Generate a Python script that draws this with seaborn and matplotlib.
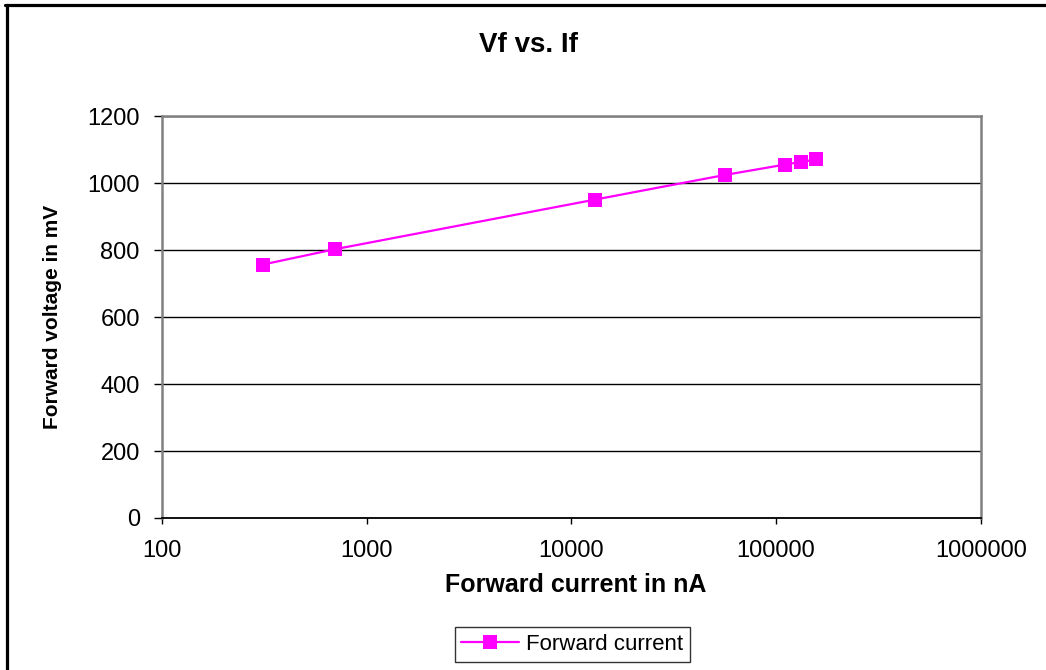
import matplotlib
matplotlib.use("Agg")
import matplotlib.pyplot as plt
import matplotlib.ticker as mticker
from matplotlib.lines import Line2D
import pandas as pd
import seaborn as sns

# Diode forward characteristic: current (nA) vs forward voltage (mV)
forward_current_na = [310, 700, 13000, 56500, 111000, 133000, 157000]
forward_voltage_mv = [757, 803, 951, 1025, 1056, 1064, 1071]
series_name = "Forward current"

x_ticks = [100, 1000, 10000, 100000, 1000000]
y_ticks = [0, 200, 400, 600, 800, 1000, 1200]

df = pd.DataFrame({
    "current": forward_current_na,
    "voltage": forward_voltage_mv,
    "series": series_name,
})

sns.set_theme(style="white")
plt.rcParams["font.family"] = ["Liberation Sans", "DejaVu Sans"]
plt.rcParams["text.color"] = "black"
plt.rcParams["xtick.color"] = "black"
plt.rcParams["ytick.color"] = "black"

fig = plt.figure(figsize=(10.46, 6.70), dpi=100)
ax = fig.add_axes([0.1549, 0.2269, 0.7827, 0.5995])

sns.lineplot(data=df, x="current", y="voltage", hue="series",
             palette=["#FF00FF"], marker="s", markersize=9.5,
             markeredgewidth=0, linewidth=1.6, ax=ax, legend=False)

ax.set_xscale("log")
ax.set_xlim(100, 1000000)
ax.set_ylim(0, 1200)
ax.xaxis.set_major_locator(mticker.FixedLocator(x_ticks))
ax.xaxis.set_minor_locator(mticker.NullLocator())
ax.xaxis.set_major_formatter(mticker.FuncFormatter(lambda v, p: f"{int(round(v))}"))
ax.set_yticks(y_ticks)

# horizontal gridlines only, black
ax.yaxis.grid(True, color="black", linewidth=1.0)
ax.xaxis.grid(False)

ax.spines["bottom"].set_color("black")
ax.spines["bottom"].set_linewidth(1.3)
for side in ("top", "right", "left"):
    ax.spines[side].set_color("#808080")
    ax.spines[side].set_linewidth(1.8)

ax.tick_params(axis="y", which="major", direction="out", length=6, width=1.0,
               color="black", left=True, labelsize=17, labelcolor="black", pad=10)
ax.tick_params(axis="x", which="major", direction="out", length=4, width=1.0,
               color="black", bottom=True, labelsize=17, labelcolor="black", pad=12)

ax.set_xlabel("")
ax.set_ylabel("")
fig.text(0.550, 0.127, "Forward current in nA", ha="center", va="center",
         fontsize=18, fontweight="bold")
fig.text(0.050, 0.527, "Forward voltage in mV", ha="center", va="center",
         rotation=90, fontsize=15, fontweight="bold")
fig.text(0.505, 0.933, "Vf vs. If", ha="center", va="center",
         fontsize=20, fontweight="bold")

handle = Line2D([], [], color="#FF00FF", marker="s", markersize=9.5,
                markeredgewidth=0, linewidth=1.6)
leg = fig.legend([handle], [series_name], loc="center",
                 bbox_to_anchor=(0.547, 0.038), frameon=True, fancybox=False,
                 fontsize=16, handlelength=2.6, borderpad=0.3,
                 handletextpad=0.3)
leg.get_frame().set_edgecolor("black")
leg.get_frame().set_linewidth(1.0)

# outer chart frame (top and left edges)
fig.add_artist(Line2D([5 / 1046, 1.0], [1 - 5 / 670, 1 - 5 / 670],
                      transform=fig.transFigure, color="black", linewidth=2.3))
fig.add_artist(Line2D([7 / 1046, 7 / 1046], [0.0, 1 - 5 / 670],
                      transform=fig.transFigure, color="black", linewidth=2.3))

fig.savefig("out.png", dpi=100, facecolor="white")
